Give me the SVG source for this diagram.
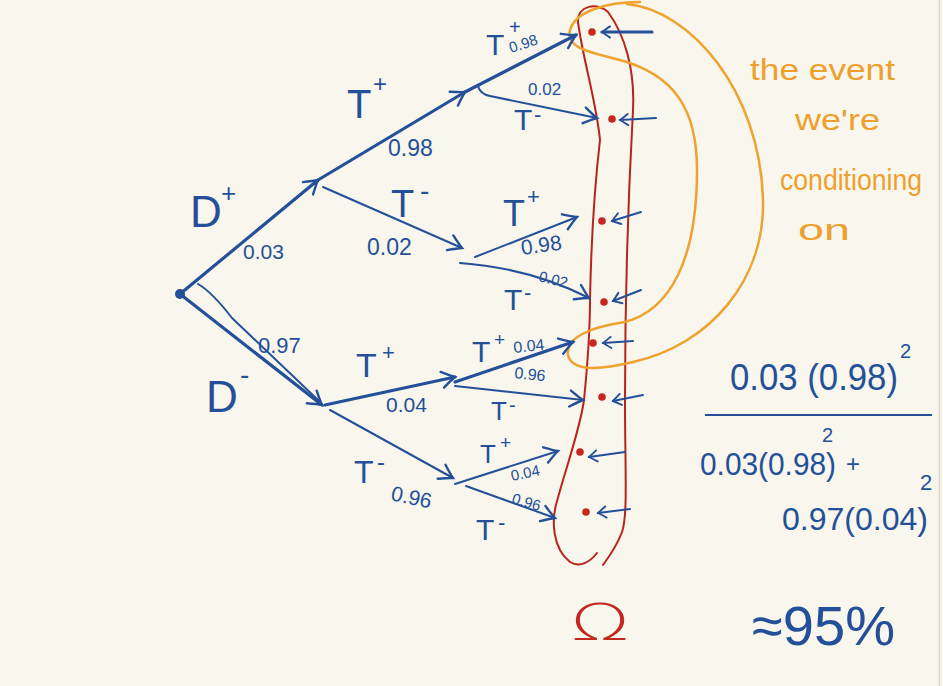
<svg xmlns="http://www.w3.org/2000/svg" width="943" height="686" viewBox="0 0 943 686">
<defs>
<style>
.bg{fill:#f8f6ed}
.ln{fill:none;stroke:#24509a;stroke-linecap:round;stroke-linejoin:round}
.thk{stroke-width:3.2}
.thn{stroke-width:2}
.bt{fill:#24509a;font-family:"Liberation Sans",Arial,sans-serif}
.ot{fill:#ee9f2c;font-family:"Liberation Sans",Arial,sans-serif}
.dot{fill:#c8261e}
.red{fill:none;stroke:#b8231c;stroke-width:2;stroke-linecap:round}
.org{fill:none;stroke:#efa22e;stroke-width:2.5;stroke-linecap:round}
</style>
<marker id="ah" viewBox="-16 -10 20 20" markerWidth="20" markerHeight="20" refX="0" refY="0" orient="auto" markerUnits="userSpaceOnUse">
<path d="M-13,-8 Q-4,-2 0,0 Q-4,2 -13,8" fill="none" stroke="#24509a" stroke-width="2.4" stroke-linecap="round"/>
</marker>
<marker id="sh" viewBox="-14 -10 18 20" markerWidth="16" markerHeight="16" refX="0" refY="0" orient="auto" markerUnits="userSpaceOnUse">
<path d="M-10,-7 Q-3,-2 0,0 Q-3,2 -10,7" fill="none" stroke="#24509a" stroke-width="2.4" stroke-linecap="round"/>
</marker>
</defs>
<rect class="bg" x="0" y="0" width="943" height="686"/>
<line x1="939.5" y1="0" x2="939.5" y2="686" stroke="#d8d6cf" stroke-width="1.5"/>

<!-- sample space outline and event -->
<g id="omega-region">
<path class="red" d="M597,553 C590,562 580,568 570,562 C552,548 552,520 556,505 C565,470 580,430 584,400 C587,370 590,340 590,300 C591,250 593,200 600,140 C596,100 583,60 578,22 C577,5 598,2 608,12 C625,35 635,70 633,110 C628,200 625,300 625,400 C625,470 628,515 622,532 C616,548 608,558 603,565"/>
<text x="600" y="640" text-anchor="middle" font-family="'DejaVu Sans',sans-serif" font-weight="200" font-size="52" fill="#c0291f" transform="translate(600 620) scale(1.5 0.95) translate(-600 -620)">Ω</text>
</g>
<g id="event-region">
<path class="org" d="M627,4 C690,10 760,90 763,200 C765,280 710,345 633,362 C600,370 572,372 568,355 C565,338 590,327 625,322 C670,310 697,260 697,170 C697,110 675,75 620,60 C590,52 565,48 570,30 C575,12 605,2 640,2"/>
<text class="ot" x="750" y="80" font-size="30" textLength="145" lengthAdjust="spacingAndGlyphs">the event</text>
<text class="ot" x="795" y="130" font-size="30" textLength="85" lengthAdjust="spacingAndGlyphs">we're</text>
<text class="ot" x="780" y="190" font-size="30" textLength="142" lengthAdjust="spacingAndGlyphs">conditioning</text>
<text class="ot" x="798" y="240" font-size="30" textLength="52" lengthAdjust="spacingAndGlyphs">on</text>
</g>

<!-- connectors -->
<g id="connectors">
<path class="ln thk" d="M180,294 L318,180" marker-end="url(#ah)"/>
<path class="ln thk" d="M180,294 L322,405" marker-end="url(#ah)"/>
<path class="ln thn" d="M198,284 Q212,292 232,318 L318,400"/>
<path class="ln thk" d="M318,180 L465,92" marker-end="url(#ah)"/>
<path class="ln thn" d="M323,187 L462,248" marker-end="url(#ah)"/>
<path class="ln thk" d="M465,92 L576,35" marker-end="url(#ah)"/>
<path class="ln thn" d="M478,86 Q480,94 490,96 L597,118" marker-end="url(#ah)"/>
<path class="ln thn" d="M475,257 L577,217" marker-end="url(#ah)"/>
<path class="ln thn" d="M460,263 Q530,268 589,298" marker-end="url(#ah)"/>
<path class="ln thk" d="M325,405 L455,377" marker-end="url(#ah)"/>
<path class="ln thn" d="M330,410 L453,478" marker-end="url(#ah)"/>
<path class="ln thk" d="M455,382 L573,342" marker-end="url(#ah)"/>
<path class="ln thn" d="M455,386 L583,400" marker-end="url(#ah)"/>
<path class="ln thn" d="M455,484 L558,451" marker-end="url(#ah)"/>
<path class="ln thn" d="M466,486 L555,518" marker-end="url(#ah)"/>
<!-- pointers to outcomes -->
<path class="ln thk" d="M652,32 L602,32" marker-end="url(#sh)"/>
<path class="ln thn" d="M656,118 L620,120" marker-end="url(#sh)"/>
<path class="ln thn" d="M641,212 L612,221" marker-end="url(#sh)"/>
<path class="ln thn" d="M641,290 L613,301" marker-end="url(#sh)"/>
<path class="ln thn" d="M633,341 L603,343" marker-end="url(#sh)"/>
<path class="ln thn" d="M643,395 L613,401" marker-end="url(#sh)"/>
<path class="ln thn" d="M625,452 L589,457" marker-end="url(#sh)"/>
<path class="ln thn" d="M630,509 L598,513" marker-end="url(#sh)"/>
</g>

<!-- tree nodes -->
<g id="root"><circle cx="180" cy="294" r="5" fill="#24509a"/></g>
<g id="node-dplus">
<text class="bt" x="190" y="227" font-size="44">D</text>
<text class="bt" x="221" y="202" font-size="26">+</text>
<text class="bt" x="243" y="259" font-size="21">0.03</text>
</g>
<g id="node-dminus">
<text class="bt" x="206" y="412" font-size="44">D</text>
<text class="bt" x="240" y="384" font-size="28">-</text>
<text class="bt" x="258" y="353" font-size="22">0.97</text>
</g>
<g id="node-dplus-tplus">
<text class="bt" x="347" y="118" font-size="40">T</text>
<text class="bt" x="373" y="92" font-size="24">+</text>
<text class="bt" x="388" y="156" font-size="23">0.98</text>
</g>
<g id="node-dplus-tminus">
<text class="bt" x="391" y="217" font-size="38">T</text>
<text class="bt" x="420" y="200" font-size="28">-</text>
<text class="bt" x="367" y="255" font-size="23">0.02</text>
</g>
<g id="node-dminus-tplus">
<text class="bt" x="356" y="377" font-size="34">T</text>
<text class="bt" x="382" y="360" font-size="22">+</text>
<text class="bt" x="386" y="412" font-size="21">0.04</text>
</g>
<g id="node-dminus-tminus">
<text class="bt" x="354" y="483" font-size="32">T</text>
<text class="bt" x="377" y="470" font-size="24">-</text>
<text class="bt" x="390" y="500" font-size="21" transform="rotate(12 390 500)">0.96</text>
</g>

<!-- outcomes -->
<g id="outcome-1">
<circle class="dot" cx="592" cy="32" r="3.8"/>
<text class="bt" x="486" y="55" font-size="30">T</text>
<text class="bt" x="509" y="34" font-size="20">+</text>
<text class="bt" x="511" y="53" font-size="15" transform="rotate(-18 511 53)">0.98</text>
</g>
<g id="outcome-2">
<circle class="dot" cx="612" cy="119" r="3.8"/>
<text class="bt" x="528" y="95" font-size="17">0.02</text>
<text class="bt" x="514" y="130" font-size="30">T</text>
<text class="bt" x="534" y="122" font-size="22">-</text>
</g>
<g id="outcome-3">
<circle class="dot" cx="602" cy="221" r="3.8"/>
<text class="bt" x="503" y="226" font-size="36">T</text>
<text class="bt" x="527" y="204" font-size="22">+</text>
<text class="bt" x="522" y="255" font-size="21" transform="rotate(-8 522 255)">0.98</text>
</g>
<g id="outcome-4">
<circle class="dot" cx="604" cy="302" r="3.8"/>
<text class="bt" x="538" y="281" font-size="15" transform="rotate(14 538 281)">0.02</text>
<text class="bt" x="504" y="310" font-size="30">T</text>
<text class="bt" x="524" y="300" font-size="22">-</text>
</g>
<g id="outcome-5">
<circle class="dot" cx="593" cy="343" r="3.8"/>
<text class="bt" x="472" y="362" font-size="30">T</text>
<text class="bt" x="494" y="346" font-size="19">+</text>
<text class="bt" x="514" y="353" font-size="16" transform="rotate(-6 514 353)">0.04</text>
</g>
<g id="outcome-6">
<circle class="dot" cx="602" cy="397" r="3.8"/>
<text class="bt" x="514" y="378" font-size="16" transform="rotate(6 514 378)">0.96</text>
<text class="bt" x="491" y="420" font-size="26">T</text>
<text class="bt" x="509" y="412" font-size="20">-</text>
</g>
<g id="outcome-7">
<circle class="dot" cx="580" cy="452" r="3.8"/>
<text class="bt" x="480" y="463" font-size="26">T</text>
<text class="bt" x="500" y="449" font-size="19">+</text>
<text class="bt" x="512" y="481" font-size="15" transform="rotate(-12 512 481)">0.04</text>
</g>
<g id="outcome-8">
<circle class="dot" cx="586" cy="512" r="3.8"/>
<text class="bt" x="511" y="503" font-size="15" transform="rotate(16 511 503)">0.96</text>
<text class="bt" x="476" y="540" font-size="30">T</text>
<text class="bt" x="498" y="530" font-size="22">-</text>
</g>

<!-- calculation -->
<g id="calculation">
<text class="bt" x="730" y="390" font-size="36" textLength="168" lengthAdjust="spacingAndGlyphs">0.03 (0.98)</text>
<text class="bt" x="900" y="358" font-size="20">2</text>
<line x1="705" y1="415" x2="932" y2="415" stroke="#24509a" stroke-width="2"/>
<text class="bt" x="700" y="475" font-size="32" textLength="136" lengthAdjust="spacingAndGlyphs">0.03(0.98)</text>
<text class="bt" x="822" y="442" font-size="20">2</text>
<text class="bt" x="846" y="472" font-size="24">+</text>
<text class="bt" x="782" y="530" font-size="32" textLength="146" lengthAdjust="spacingAndGlyphs">0.97(0.04)</text>
<text class="bt" x="920" y="490" font-size="22">2</text>
<text class="bt" x="752" y="645" font-size="56" textLength="143" lengthAdjust="spacingAndGlyphs">≈95%</text>
</g>
</svg>
